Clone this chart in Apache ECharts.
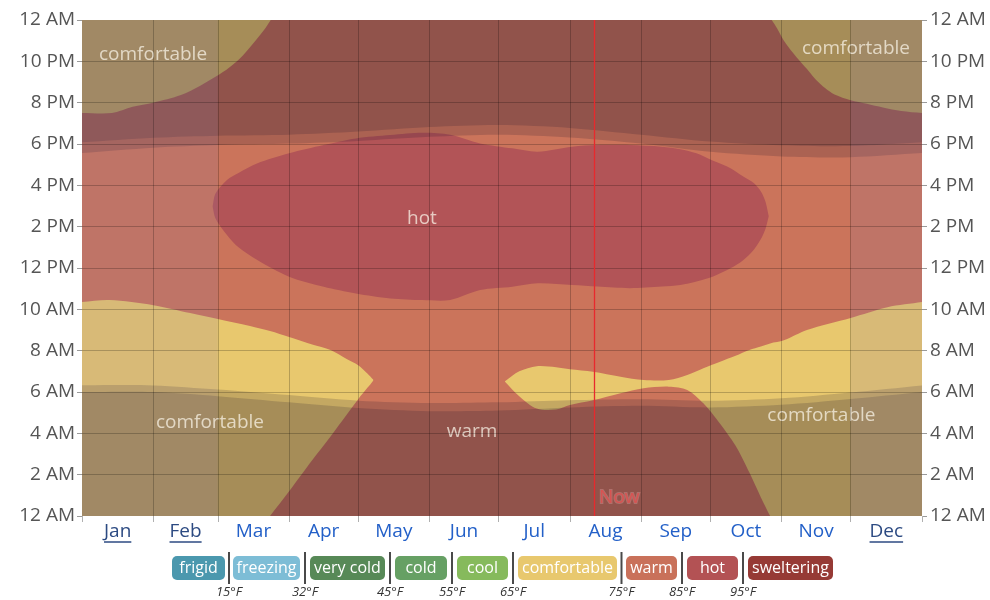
<!DOCTYPE html>
<html><head><meta charset="utf-8">
<script src="https://cdn.jsdelivr.net/npm/echarts@6/dist/echarts.min.js"></script>
<style>html,body{margin:0;padding:0;background:#fff;}#c{width:990px;height:600px;}</style>
</head><body><div id="c"></div>
<script>
// ---------- data ----------
const months = ['Jan','Feb','Mar','Apr','May','Jun','Jul','Aug','Sep','Oct','Nov','Dec'];
const monthStarts = [0,31,59,90,120,151,181,212,243,273,304,334,365];
const underlinedMonths = ['Jan','Feb','Dec'];
const hourLabels = ['12 AM','2 AM','4 AM','6 AM','8 AM','10 AM','12 PM','2 PM','4 PM','6 PM','8 PM','10 PM','12 AM'];
const nowDay = 222.3;

// evening "comfortable" (above the boundary)
const topLeftDays  = [0, 13, 22, 31, 43, 51, 58, 64, 70, 75, 79, 82];
const topLeftHours = [19.5, 19.5, 19.8, 20.0, 20.37, 20.8, 21.25, 21.7, 22.3, 22.95, 23.5, 24];
const topRightDays  = [299.7, 302, 305, 309, 312, 316, 319, 323, 327, 334, 341, 348, 356, 365];
const topRightHours = [24, 23.6, 23.0, 22.4, 22.0, 21.5, 21.1, 20.7, 20.4, 20.12, 19.95, 19.77, 19.6, 19.5];

// "hot" region
const hotDays = [56.8, 58, 63, 68, 76, 90, 105, 119, 134, 148, 160, 173, 187, 198, 213, 224, 238, 252, 260, 267, 274, 282, 287, 292, 295, 297, 298.4];
const hotLow  = [14.95, 14.4, 13.6, 13.0, 12.4, 11.58, 11.09, 10.77, 10.53, 10.45, 10.45, 10.93, 11.09, 11.26, 11.18, 11.1, 11.02, 11.1, 11.18, 11.35, 11.58, 12.0, 12.35, 12.9, 13.4, 13.9, 14.5];
const hotHigh = [15.0, 15.6, 16.26, 16.6, 17.06, 17.55, 17.95, 18.27, 18.43, 18.54, 18.45, 18.03, 17.79, 17.63, 17.87, 17.95, 17.95, 17.87, 17.75, 17.55, 17.2, 16.82, 16.45, 16.1, 15.7, 15.2, 14.5];

// morning "comfortable", first half of the year
const comfADays = [0, 12, 31, 47, 59, 73, 81.7, 90, 100, 108, 115, 120, 124, 126.5];
const comfALow  = [0, 0, 0, 0, 0, 0, 0, 1.2, 2.7, 3.85, 4.9, 5.65, 6.2, 6.55];
const comfAHigh = [10.35, 10.45, 10.2, 9.82, 9.53, 9.19, 8.95, 8.66, 8.3, 8.03, 7.6, 7.3, 6.9, 6.6];

// morning "comfortable", second half of the year
const comfBDays = [183.8, 190, 197.6, 206, 212, 222, 234, 244, 255, 263, 270, 277, 284, 290, 295, 299, 305, 315, 334, 350, 365];
const comfBLow  = [6.5, 5.8, 5.2, 5.15, 5.37, 5.6, 5.94, 6.18, 6.26, 6.1, 5.45, 4.5, 3.4, 2.1, 0.9, 0, 0, 0, 0, 0, 0];
const comfBHigh = [6.52, 7.0, 7.25, 7.2, 7.1, 6.98, 6.74, 6.58, 6.58, 6.82, 7.15, 7.45, 7.75, 8.03, 8.2, 8.35, 8.5, 9.0, 9.58, 10.1, 10.35];

// civil twilight / daylight
const sunDays = [0,31,59,90,120,151,181,212,243,273,304,334,365];
const dawn    = [6.0, 6.0, 5.8, 5.5, 5.22, 5.07, 5.1, 5.25, 5.33, 5.25, 5.38, 5.66, 6.0];
const sunrise = [6.33, 6.32, 6.12, 5.85, 5.58, 5.47, 5.5, 5.6, 5.65, 5.58, 5.7, 5.98, 6.32];
const sunset  = [17.56, 17.82, 17.95, 18.02, 18.15, 18.35, 18.45, 18.32, 18.02, 17.62, 17.4, 17.36, 17.56];
const dusk    = [18.08, 18.3, 18.4, 18.45, 18.6, 18.82, 18.92, 18.78, 18.45, 18.12, 17.94, 17.9, 18.08];

// highlighted month spans (Jan–Feb, Dec)
const highlightSpans = [[0, 59], [334, 365]];

const regionLabels = [
  {name:'comfortable', day:30.85, hour:22.35},
  {name:'comfortable', day:55.6, hour:4.5},
  {name:'hot', day:147.7, hour:14.4},
  {name:'warm', day:169.5, hour:4.07},
  {name:'comfortable', day:321.3, hour:4.88},
  {name:'comfortable', day:336.3, hour:22.6}
];

const legendNames  = ['frigid','freezing','very cold','cold','cool','comfortable','warm','hot','sweltering'];
const legendColors = ['#4b98ae','#7dbdd6','#578957','#66a064','#86ba5c','#e8c86e','#c9715a','#b35254','#963a35'];
const legendTemps  = ['15°F','32°F','45°F','55°F','65°F','75°F','85°F','95°F'];

// ---------- styles ----------
const C_COMF = '#e8c86e', C_WARM = '#cb745b', C_HOT = '#b25457';
const SHADE = 'rgba(20,10,40,0.17)';
const HILITE = 'rgba(135,120,165,0.17)';
const FONT = 'Open Sans';
const X_MAX = 365, Y_MAX = 24;

const pairs = (xs, ys) => xs.map((x, i) => [x, ys[i]]);
const onEdge = p => p[0] <= 0 || p[0] >= X_MAX || p[1] <= 0 || p[1] >= Y_MAX;
// duplicate edge points so that smoothing keeps straight borders and sharp corners
const prep = list => { const out = []; list.forEach(p => { out.push(p); if (onEdge(p)) out.push(p); }); return out; };

function region(pts, color, smooth) {
  const P = prep(pts);
  return {
    type:'custom', silent:true, clip:true, data:[[0, 0]],
    renderItem:(params, api) => ({
      type:'polygon',
      shape:{points:P.map(p => api.coord(p)), smooth:smooth === undefined ? 0.3 : smooth},
      style:{fill:color}
    })
  };
}
const bandPts = (days, low, high) => pairs(days, high).concat(pairs(days, low).reverse());

const monthMids = months.map((m, i) => (monthStarts[i] + monthStarts[i+1]) / 2);

const series = [];
series.push(region(pairs(topLeftDays, topLeftHours).concat([[0, Y_MAX]]), C_COMF));
series.push(region(pairs(topRightDays, topRightHours).concat([[X_MAX, Y_MAX]]), C_COMF));
series.push(region(bandPts(hotDays, hotLow, hotHigh), C_HOT));
series.push(region(bandPts(comfADays, comfALow, comfAHigh), C_COMF));
series.push(region(bandPts(comfBDays, comfBLow, comfBHigh), C_COMF));
series.push(region(pairs(sunDays, dawn).concat([[X_MAX, 0], [0, 0]]), SHADE));
series.push(region(pairs(sunDays, sunrise).concat([[X_MAX, 0], [0, 0]]), SHADE));
series.push(region(pairs(sunDays, sunset).concat([[X_MAX, Y_MAX], [0, Y_MAX]]), SHADE));
series.push(region(pairs(sunDays, dusk).concat([[X_MAX, Y_MAX], [0, Y_MAX]]), SHADE));
highlightSpans.forEach(s => series.push(region([[s[0], 0], [s[1], 0], [s[1], Y_MAX], [s[0], Y_MAX]], HILITE, 0)));
// "Now" marker line
series.push({
  type:'custom', silent:true, clip:false, z:20, data:[[nowDay, 12]],
  renderItem:(params, api) => {
    const a = api.coord([nowDay, 0]), b = api.coord([nowDay, Y_MAX]);
    const x = Math.round(a[0]) + 0.5;
    return {type:'line', z2:100, shape:{x1:x, y1:a[1], x2:x, y2:b[1]}, style:{stroke:'#e8292d', lineWidth:1.3, opacity:1}};
  }
});
series.push({
  type:'scatter', silent:true, symbolSize:1, itemStyle:{color:'rgba(0,0,0,0)'}, z:5,
  data: regionLabels.map(r => ({value:[r.day, r.hour], label:{formatter:r.name}})),
  label:{show:true, position:'inside', color:'rgba(250,244,232,0.92)', fontSize:19, fontFamily:FONT}
});
series.push({
  type:'scatter', silent:true, symbolSize:1, itemStyle:{color:'rgba(0,0,0,0)'}, z:21,
  data:[[nowDay, 0.87]],
  label:{show:true, position:'right', distance:5, formatter:'Now', color:'rgba(232,72,72,0.9)', fontSize:19, fontFamily:FONT,
    textBorderColor:'rgba(255,190,190,0.35)', textBorderWidth:2}
});

const yAxisCommon = {
  type:'value', min:0, max:24, interval:2, z:10,
  axisLine:{show:false},
  axisTick:{show:true, length:5, lineStyle:{color:'#9a9a9a'}},
  axisLabel:{formatter:v => hourLabels[Math.round(v/2)], fontSize:19, color:'#555', fontFamily:FONT}
};

const chart = echarts.init(document.getElementById('c'));
chart.setOption({
  animation:false,
  textStyle:{fontFamily:FONT},
  grid:{left:82, right:68, top:20, bottom:84, show:true, backgroundColor:C_WARM, borderWidth:0},
  xAxis:{
    type:'value', min:0, max:X_MAX, z:10,
    axisLine:{show:false},
    axisTick:{show:true, length:6, customValues:monthStarts, lineStyle:{color:'#b0b0b0'}},
    splitLine:{show:true, showMinLine:false, showMaxLine:false, lineStyle:{color:'rgba(0,0,0,0.22)', width:1}},
    axisLabel:{
      customValues:monthMids, margin:6, fontSize:19, fontFamily:FONT,
      formatter:v => { const i = monthMids.findIndex(m => Math.abs(m - v) < 0.01); const n = months[i];
        return underlinedMonths.indexOf(n) >= 0 ? '{u|' + n + '}' : '{n|' + n + '}'; },
      rich:{u:{color:'#2c4a82', fontSize:19, fontFamily:FONT}, n:{color:'#2360c8', fontSize:19, fontFamily:FONT}}
    }
  },
  yAxis:[
    Object.assign({}, yAxisCommon, {position:'left',
      axisLabel:Object.assign({}, yAxisCommon.axisLabel, {margin:7}),
      splitLine:{show:true, showMinLine:false, showMaxLine:false, lineStyle:{color:'rgba(0,0,0,0.22)', width:1}}}),
    Object.assign({}, yAxisCommon, {position:'right',
      axisLabel:Object.assign({}, yAxisCommon.axisLabel, {margin:8}),
      splitLine:{show:false}})
  ],
  series
});

// ---------- underlines + legend (graphic) ----------
const ctx = document.createElement('canvas').getContext('2d');
ctx.font = '19px "' + FONT + '"';
const graphics = [];
underlinedMonths.forEach(n => {
  const i = months.indexOf(n);
  const cx = chart.convertToPixel({xAxisIndex:0}, monthMids[i]);
  const w = ctx.measureText(n).width;
  graphics.push({type:'line', silent:true, shape:{x1:cx - w/2, y1:542, x2:cx + w/2, y2:542},
    style:{stroke:'#2c4a82', lineWidth:1.5}});
});
const legendLayout = [[172,225],[233,300],[310,385],[395,447],[457,508],[518,617],[626,677],[687,738],[748,833]];
legendNames.forEach((n, i) => {
  const [x0, x1] = legendLayout[i];
  graphics.push({type:'rect', silent:true, shape:{x:x0, y:556, width:x1 - x0, height:24, r:5}, style:{fill:legendColors[i]}});
  graphics.push({type:'text', silent:true, style:{text:n, x:(x0 + x1)/2, y:568, align:'center', verticalAlign:'middle',
    fill:'#fff', font:'16px "' + FONT + '"'}});
  if (i < legendTemps.length) {
    const sx = (x1 + legendLayout[i+1][0]) / 2;
    graphics.push({type:'line', silent:true, shape:{x1:sx, y1:552, x2:sx, y2:584}, style:{stroke:'#4a4a4a', lineWidth:2}});
    graphics.push({type:'text', silent:true, style:{text:legendTemps[i], x:sx, y:592, align:'center', verticalAlign:'middle',
      fill:'#333', font:'italic 13px "' + FONT + '"'}});
  }
});
chart.setOption({graphic:graphics});
</script></body></html>
